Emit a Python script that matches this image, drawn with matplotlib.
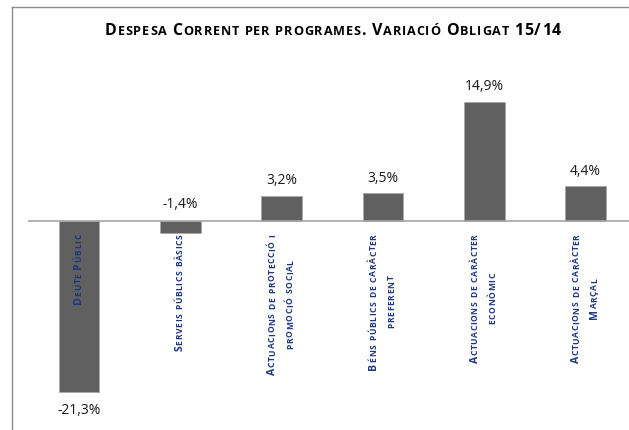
import matplotlib

matplotlib.use("Agg")
import matplotlib.pyplot as plt
from matplotlib.lines import Line2D

# Data
categories = [
    "Deute Públic",
    "Serveis públics bàsics",
    "Actuacions de protecció i\npromoció social",
    "Béns públics de caràcter\npreferent",
    "Actuacions de caràcter\neconòmic",
    "Actuacions de caràcter\nMarçal",
]
values = [-21.3, -1.4, 3.2, 3.5, 14.9, 4.4]
title = "Despesa Corrent per programes. Variació Obligat 15/14"

FONT = "Open Sans"
W, H = 629, 430
BAR_COLOR = "#606060"
CAT_COLOR = "#1d3882"

fig = plt.figure(figsize=(W / 100, H / 100), dpi=100)
ax = fig.add_axes([28.4 / W, 8 / H, 608 / W, 361 / H])
renderer = fig.canvas.get_renderer()
_cache = {}


def ink(s, size, weight):
    key = (s, size, weight)
    if key not in _cache:
        t = fig.text(0, 0, s, fontsize=size, fontweight=weight, family=FONT)
        _cache[key] = t.get_window_extent(renderer).width
        t.remove()
    return _cache[key]


def advance(c, size, weight):
    return ink("x" + c + "x", size, weight) - ink("xx", size, weight)


def lsb(c, size, weight):
    # matplotlib places a glyph's ink (not its origin) at the anchor,
    # so put the left side bearing back in
    if c == " ":
        return 0
    r_x = (ink("xx", size, weight) - 2 * ink("x", size, weight)) / 2
    return ink("x" + c, size, weight) - ink("x", size, weight) - ink(c, size, weight) - r_x


def sc_chars(s, big, small):
    # small caps: lowercase letters become smaller capitals
    return [(c.upper(), small if c.islower() else big) for c in s]


def sc_length(s, big, small, weight, track):
    chars = sc_chars(s, big, small)
    return sum(advance(c, sz, weight) for c, sz in chars) + track * (len(chars) - 1)


def draw_sc(s, x, y, big, small, weight, color, track, rotation=0):
    """Draw small-caps text with its baseline starting at display (x, y)."""
    pos = 0
    for c, sz in sc_chars(s, big, small):
        if c != " ":
            p = pos + lsb(c, sz, weight)
            px, py = (x, y + p) if rotation == 90 else (x + p, y)
            fig.text(px / W, py / H, c, fontsize=sz, fontweight=weight,
                     family=FONT, color=color, rotation=rotation,
                     rotation_mode="anchor", ha="left", va="baseline")
        pos += advance(c, sz, weight) + track


# Bars
x = list(range(len(values)))
ax.bar(x, values, width=0.4, color=BAR_COLOR, edgecolor="#a8a8a8",
       linewidth=0.6, zorder=2)
ax.axhline(0, color="#a6a6a6", linewidth=1.2, zorder=3)
ax.set_xlim(-0.5, len(values) - 0.5)
ax.set_ylim(-25, 20)
ax.axis("off")

# Value labels
for xi, v in zip(x, values):
    label = f"{v:.1f}%".replace(".", ",")
    if v < -5:
        off, y0 = -18, v
    else:
        off, y0 = (15 if v > 0 else 17), max(v, 0)
    ax.annotate(label, (xi, y0), xytext=(0, off), textcoords="offset pixels",
                ha="center", va="center", fontsize=10, family=FONT,
                color="#1a1a1a", zorder=4)

# Category labels (rotated, small caps)
CAT_BIG, CAT_SMALL = 7.6, 6.1
n_ref = len(categories[1]) - 1
cat_track = (117 - sc_length(categories[1], CAT_BIG, CAT_SMALL, "bold", 0)) / n_ref
line_gap = 18
top_y = H - 234
for xi, cat in zip(x, categories):
    cx = ax.transData.transform((xi, 0))[0]
    lines = cat.split("\n")
    lens = [sc_length(l, CAT_BIG, CAT_SMALL, "bold", cat_track) for l in lines]
    mid = top_y - max(lens) / 2
    n = len(lines)
    for i, (l, L) in enumerate(zip(lines, lens)):
        lx = cx + (i - (n - 1) / 2) * line_gap + 0.36 * CAT_SMALL
        draw_sc(l, lx, mid - L / 2, CAT_BIG, CAT_SMALL, "bold", CAT_COLOR,
                cat_track, rotation=90)

# Title (small caps)
T_BIG, T_SMALL = 11.5, 9.1
t_track = (456 - sc_length(title, T_BIG, T_SMALL, "bold", 0)) / (len(title) - 1)
tl = sc_length(title, T_BIG, T_SMALL, "bold", t_track)
draw_sc(title, 333 - tl / 2, H - 35, T_BIG, T_SMALL, "bold", "black", t_track)

# Outer frame (cropped at right and bottom)
fig.add_artist(Line2D([12 / W, 12 / W], [0, (H - 6.5) / H],
                      color="#8c8c8c", linewidth=1))
fig.add_artist(Line2D([12 / W, 1], [(H - 6.5) / H, (H - 6.5) / H],
                      color="#8c8c8c", linewidth=1))

fig.savefig("out.png", dpi=100)
